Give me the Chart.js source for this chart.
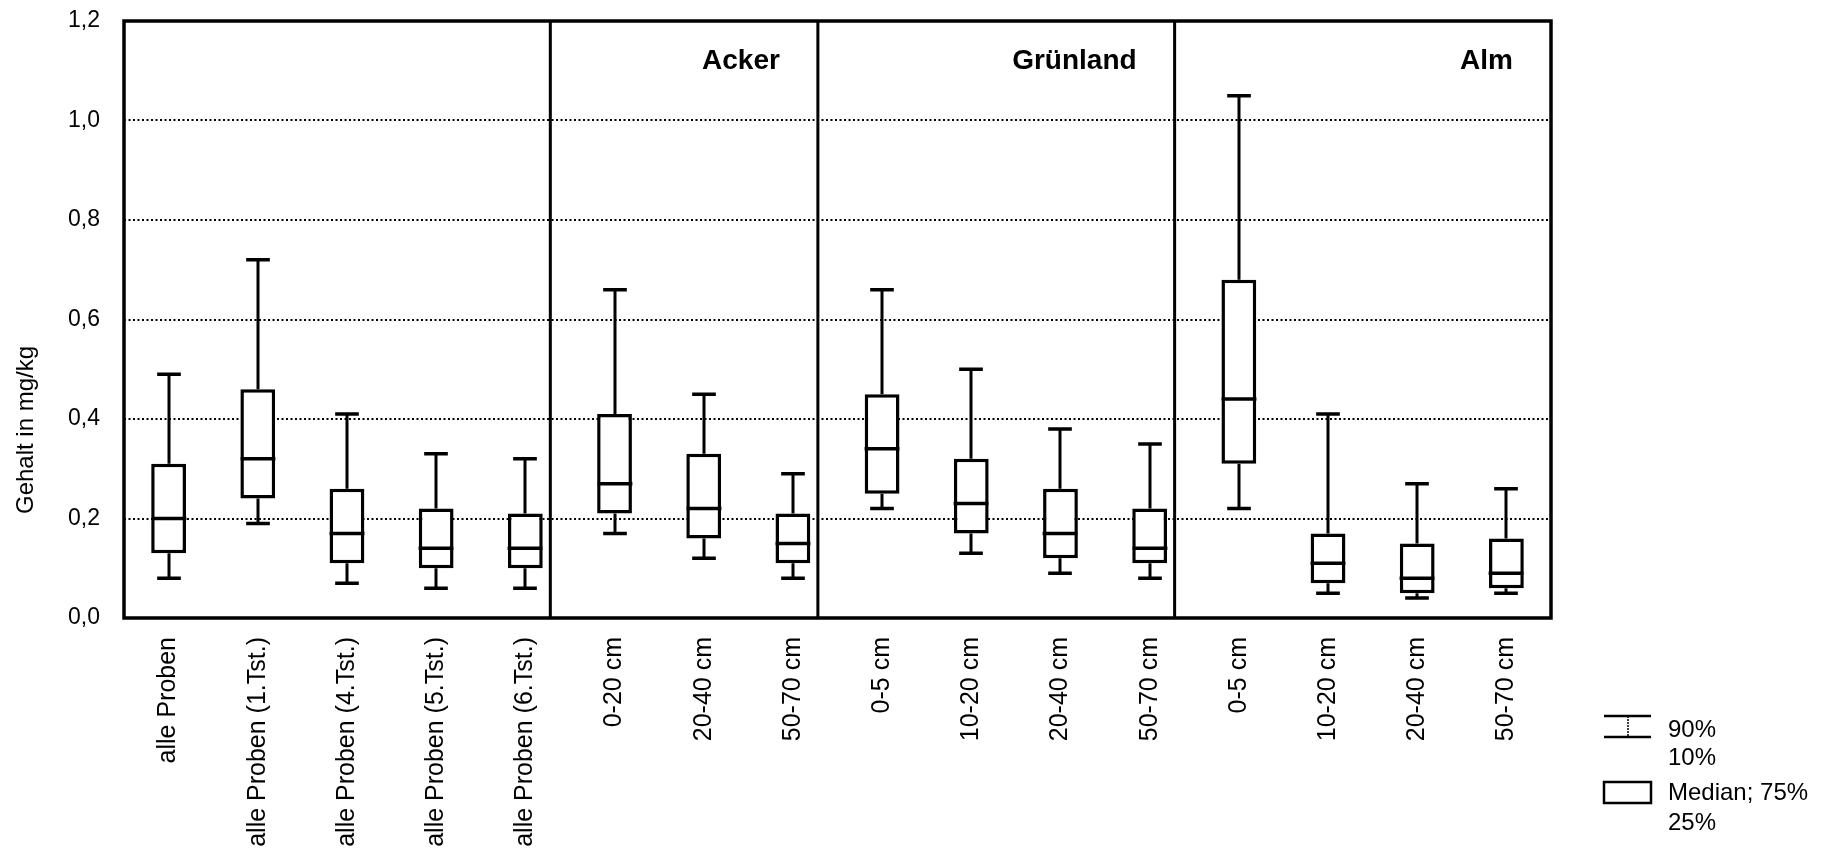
<!DOCTYPE html>
<html>
<head>
<meta charset="utf-8">
<script src="https://cdn.jsdelivr.net/npm/chart.js@4.4.1/dist/chart.umd.min.js"></script>
<style>
  html, body { margin: 0; padding: 0; background: #fff; }
</style>
</head>
<body>
<canvas id="myChart" width="1830" height="854"></canvas>
<script>
const categories = [
  'alle Proben', 'alle Proben (1.Tst.)', 'alle Proben (4.Tst.)', 'alle Proben (5.Tst.)', 'alle Proben (6.Tst.)',
  '0-20 cm', '20-40 cm', '50-70 cm',
  '0-5 cm', '10-20 cm', '20-40 cm', '50-70 cm',
  '0-5 cm', '10-20 cm', '20-40 cm', '50-70 cm'
];

// percentiles (mg/kg)
const p10    = [0.08, 0.19, 0.07, 0.06, 0.06, 0.17, 0.12, 0.08, 0.22, 0.13, 0.09, 0.08, 0.22, 0.05, 0.04, 0.05];
const q25    = [0.13, 0.24, 0.11, 0.10, 0.10, 0.21, 0.16, 0.11, 0.25, 0.17, 0.12, 0.11, 0.31, 0.07, 0.05, 0.06];
const median = [0.20, 0.32, 0.17, 0.14, 0.14, 0.27, 0.22, 0.15, 0.34, 0.23, 0.17, 0.14, 0.44, 0.11, 0.08, 0.09];
const q75    = [0.31, 0.46, 0.26, 0.22, 0.21, 0.41, 0.33, 0.21, 0.45, 0.32, 0.26, 0.22, 0.68, 0.17, 0.15, 0.16];
const p90    = [0.49, 0.72, 0.41, 0.33, 0.32, 0.66, 0.45, 0.29, 0.66, 0.50, 0.38, 0.35, 1.05, 0.41, 0.27, 0.26];

const groupNames = ['', 'Acker', 'Grünland', 'Alm'];
const groupStart = [0, 5, 8, 12];
const yTicks = [0, 0.2, 0.4, 0.6, 0.8, 1.0, 1.2];
const yTitle = 'Gehalt in mg/kg';
const legendLines = [['90%', '10%'], ['Median; 75%', '25%']];

const FONT = "'Liberation Sans', Arial, sans-serif";
Chart.defaults.font.family = FONT;
Chart.defaults.color = '#000';

// x of the vertical divider in front of category i
function dividerX(x, i) {
  const a = x.getPixelForValue(i - 1), b = x.getPixelForValue(i);
  return (a + b) / 2 - 0.22 * (b - a);
}

const boxPlot = {
  id: 'boxPlot',
  beforeDatasetsDraw(chart) {
    const { ctx, chartArea: a, scales: { y } } = chart;
    ctx.save();
    ctx.strokeStyle = '#000';
    ctx.lineWidth = 2;
    ctx.setLineDash([2, 2.5]);
    yTicks.slice(1, -1).forEach((v) => {
      const py = Math.round(y.getPixelForValue(v));
      ctx.beginPath();
      ctx.moveTo(a.left, py);
      ctx.lineTo(a.right, py);
      ctx.stroke();
    });
    ctx.restore();
  },
  afterDatasetsDraw(chart) {
    const { ctx, scales: { y } } = chart;
    const meta = chart.getDatasetMeta(0);
    ctx.save();
    ctx.strokeStyle = '#000';
    meta.data.forEach((bar, i) => {
      const cx = Math.round(bar.x);
      const half = bar.width / 2;
      const cap = bar.width * 0.34;
      // whiskers
      ctx.lineWidth = 3;
      ctx.beginPath();
      ctx.moveTo(cx, y.getPixelForValue(q75[i]));
      ctx.lineTo(cx, y.getPixelForValue(p90[i]));
      ctx.moveTo(cx, y.getPixelForValue(q25[i]));
      ctx.lineTo(cx, y.getPixelForValue(p10[i]));
      ctx.stroke();
      // caps and median
      ctx.lineWidth = 3.5;
      ctx.beginPath();
      [p90[i], p10[i]].forEach((v) => {
        const py = y.getPixelForValue(v);
        ctx.moveTo(cx - cap, py);
        ctx.lineTo(cx + cap, py);
      });
      const pm = y.getPixelForValue(median[i]);
      ctx.moveTo(cx - half, pm);
      ctx.lineTo(cx + half, pm);
      ctx.stroke();
    });
    ctx.restore();
  },
  afterDraw(chart) {
    const { ctx, chartArea: a, scales: { x } } = chart;
    ctx.save();
    ctx.strokeStyle = '#000';
    ctx.lineWidth = 3.5;
    ctx.strokeRect(a.left, a.top, a.right - a.left, a.bottom - a.top);

    // group dividers and labels
    const edges = groupStart.slice(1).map((i) => dividerX(x, i)).concat([a.right]);
    ctx.lineWidth = 3;
    ctx.beginPath();
    edges.slice(0, -1).forEach((px) => {
      ctx.moveTo(px, a.top);
      ctx.lineTo(px, a.bottom);
    });
    ctx.stroke();
    ctx.fillStyle = '#000';
    ctx.font = 'bold 28px ' + FONT;
    ctx.textAlign = 'right';
    ctx.textBaseline = 'middle';
    groupNames.forEach((name, g) => {
      if (name) ctx.fillText(name, edges[g] - 38, a.top + 40);
    });

    // y title
    ctx.font = '24px ' + FONT;
    ctx.textAlign = 'center';
    ctx.save();
    ctx.translate(26, 430);
    ctx.rotate(-Math.PI / 2);
    ctx.fillText(yTitle, 0, 0);
    ctx.restore();

    // legend
    const lx = a.right + 53, lw = 47, tx = a.right + 117;
    ctx.lineWidth = 2.5;
    ctx.beginPath();
    ctx.moveTo(lx, 716); ctx.lineTo(lx + lw, 716);
    ctx.moveTo(lx, 737); ctx.lineTo(lx + lw, 737);
    ctx.stroke();
    ctx.lineWidth = 1.5;
    ctx.setLineDash([2, 1]);
    ctx.beginPath();
    ctx.moveTo(lx + 24, 716); ctx.lineTo(lx + 24, 737);
    ctx.stroke();
    ctx.setLineDash([]);
    ctx.lineWidth = 2.5;
    ctx.strokeRect(lx, 782, lw, 21);
    ctx.textAlign = 'left';
    ctx.fillText(legendLines[0][0], tx, 730);
    ctx.fillText(legendLines[0][1], tx, 758);
    ctx.fillText(legendLines[1][0], tx, 793);
    ctx.fillText(legendLines[1][1], tx, 823);
    ctx.restore();
  }
};

const ctx = document.getElementById('myChart');

const myChart = new Chart(ctx, {
  type: 'bar',
  data: {
    labels: categories,
    datasets: [{
      data: categories.map((_, i) => [q25[i], q75[i]]),
      backgroundColor: '#fff',
      borderColor: '#000',
      borderWidth: 3.5,
      borderSkipped: false,
      categoryPercentage: 1,
      barPercentage: 0.39,
    }],
  },
  options: {
    responsive: false,
    animation: false,
    events: [],
    layout: { padding: { top: 21, right: 279, left: 0, bottom: 0 } },
    plugins: {
      legend: { display: false },
      tooltip: { enabled: false },
    },
    scales: {
      x: {
        grid: { display: false, drawTicks: false },
        border: { display: false },
        ticks: {
          autoSkip: false,
          minRotation: 90,
          maxRotation: 90,
          padding: 19,
          color: '#000',
          font: { size: 25 },
        },
        afterFit(scale) {
          scale.height = 236;
          scale.paddingLeft = 0;
          scale.paddingRight = 0;
        },
      },
      y: {
        min: 0,
        max: 1.2,
        afterBuildTicks(scale) { scale.ticks = yTicks.map((v) => ({ value: v })); },
        grid: { display: false, drawTicks: false },
        border: { display: false },
        ticks: {
          padding: 24,
          color: '#000',
          font: { size: 23 },
          callback: (v) => Number(v).toFixed(1).replace('.', ','),
        },
        afterFit(scale) {
          scale.width = 124;
          scale.paddingTop = 0;
          scale.paddingBottom = 0;
        },
      },
    },
  },
  plugins: [boxPlot],
});
</script>
</body>
</html>
